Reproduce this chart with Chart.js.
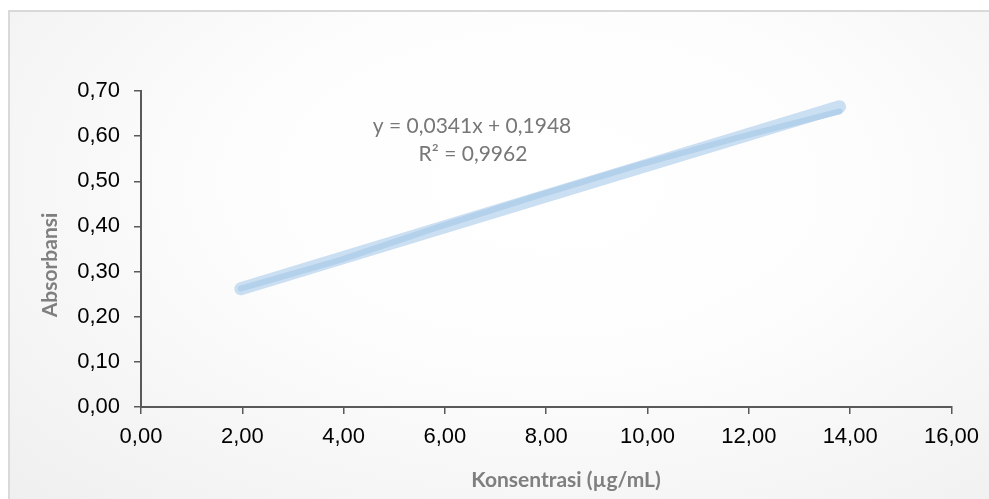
<!DOCTYPE html>
<html>
<head>
<meta charset="utf-8">
<script src="https://cdn.jsdelivr.net/npm/chart.js@4"></script>
<style>
  html, body { margin: 0; padding: 0; background: #fff; }
  #wrap {
    position: absolute; left: 8px; top: 10px; width: 981px; height: 489px;
    border-top: 2px solid #d9d9d9; border-left: 2px solid #d9d9d9;
    background: radial-gradient(ellipse at 55% 35%, #ffffff 0%, #fdfdfd 40%, #efefef 100%);
  }
  #chart { position: absolute; left: 0; top: 0; }
</style>
</head>
<body>
<div id="wrap"></div>
<canvas id="chart" width="989" height="499"></canvas>
<script>
// data kurva standar
const concentrations = [1.97, 3.94, 5.91, 7.88, 9.85, 11.82, 13.79];
const absorbances = [0.262, 0.326, 0.400, 0.470, 0.537, 0.598, 0.655];
const slope = 0.0341;
const intercept = 0.1948;
const equationText = "y = 0,0341x + 0,1948";
const r2Text = "R² = 0,9962";
const xTitle = "Konsentrasi (µg/mL)";
const yTitle = "Absorbansi";

const points = concentrations.map((x, i) => ({ x: x, y: absorbances[i] }));
const xFirst = concentrations[0];
const xLast = concentrations[concentrations.length - 1];
const trend = [
    { x: xFirst, y: slope * xFirst + intercept },
    { x: xLast, y: slope * xLast + intercept }
];

function fmt(v) { return Number(v).toFixed(2).replace(".", ","); }

// label persamaan dan judul sumbu
const labelsPlugin = {
    id: "labels",
    afterDraw(chart) {
        const ctx = chart.ctx;
        ctx.save();
        ctx.fillStyle = "#777777";
        ctx.textAlign = "center";
        ctx.textBaseline = "middle";
        ctx.font = "21px Lato";
        ctx.fillText(equationText, 472, 126);
        ctx.fillText(r2Text, 473, 154);
        ctx.fillStyle = "#7f7f7f";
        ctx.font = "bold 21px Lato";
        ctx.fillText(xTitle, 566, 480);
        ctx.translate(50, 265);
        ctx.rotate(-Math.PI / 2);
        ctx.fillText(yTitle, 0, 0);
        ctx.restore();
    }
};

new Chart(document.getElementById("chart"), {
    type: "scatter",
    data: {
        datasets: [{
            label: "Absorbansi",
            data: points,
            showLine: true,
            borderColor: "#b4d1ec",
            borderWidth: 6,
            borderCapStyle: "round",
            borderJoinStyle: "round",
            pointRadius: 0,
            order: 1
        }, {
            label: "Linear",
            data: trend,
            showLine: true,
            borderColor: "rgba(190, 215, 239, 0.8)",
            borderWidth: 13,
            borderCapStyle: "round",
            pointRadius: 0,
            order: 2
        }]
    },
    options: {
        responsive: false,
        animation: false,
        layout: { padding: { left: 0, right: 37, top: 91, bottom: 42 } },
        plugins: { legend: { display: false }, tooltip: { enabled: false } },
        scales: {
            x: {
                type: "linear", min: 0, max: 16,
                afterFit(scale) { scale.height = 50; },
                ticks: { stepSize: 2, color: "#000", padding: 10, maxRotation: 0,
                    font: { family: "'Liberation Sans Narrow', 'Liberation Sans', sans-serif", size: 22 },
                    callback: fmt },
                grid: { drawOnChartArea: false, drawTicks: true, tickLength: 7, color: "#595959", lineWidth: 1.5 },
                border: { color: "#595959", width: 2 }
            },
            y: {
                min: 0, max: 0.7,
                afterFit(scale) { scale.width = 141; },
                ticks: { stepSize: 0.1, color: "#000", padding: 14,
                    font: { family: "'Liberation Sans Narrow', 'Liberation Sans', sans-serif", size: 22 },
                    callback: fmt },
                grid: { drawOnChartArea: false, drawTicks: true, tickLength: 7, color: "#595959", lineWidth: 1.5 },
                border: { color: "#595959", width: 2 }
            }
        }
    },
    plugins: [labelsPlugin]
});
</script>
</body>
</html>
